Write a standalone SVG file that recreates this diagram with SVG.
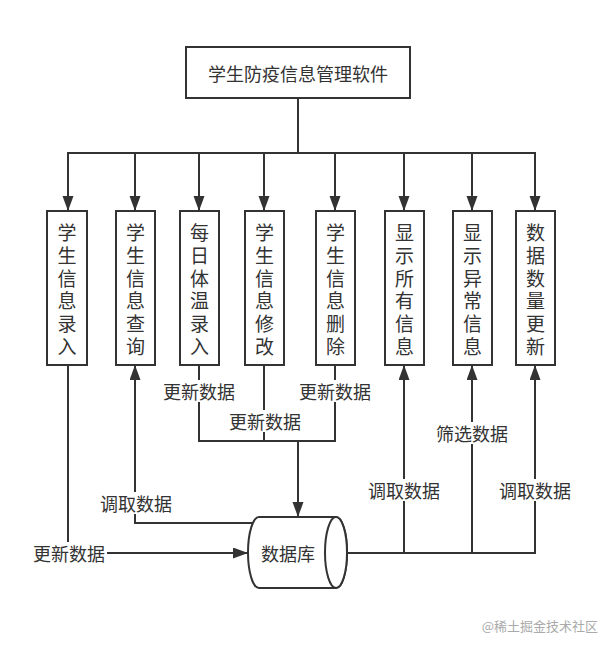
<svg xmlns="http://www.w3.org/2000/svg" width="616" height="650" viewBox="0 0 616 650">
<style>
text{font-family:"Noto Sans CJK SC","Liberation Sans",sans-serif;fill:#333;text-anchor:middle;dominant-baseline:central}
.box{fill:#fff;stroke:#333;stroke-width:2}
.vt{font-size:19px;writing-mode:vertical-rl;letter-spacing:3.7px}
.lbl{font-size:18px}
.lbg{fill:#fff}
.edge{fill:none;stroke:#333;stroke-width:2}
.arr{marker-end:url(#ah)}
</style>
<defs>
<marker id="ah" markerUnits="userSpaceOnUse" markerWidth="16" markerHeight="12" refX="15" refY="5.5" orient="auto">
<path d="M0,0 L15,5.5 L0,11 Z" fill="#333"/>
</marker>
</defs>
<rect width="616" height="650" fill="#fff"/>
<g id="connectors">
<path class="edge" d="M298,98 V153 H68 V209"/>
<path class="edge arr" d="M68,153 V211"/>
<path class="edge arr" d="M298,153 H135 V211"/>
<path class="edge arr" d="M298,153 H199 V211"/>
<path class="edge arr" d="M298,153 H264 V211"/>
<path class="edge arr" d="M298,153 H335 V211"/>
<path class="edge arr" d="M298,153 H404 V211"/>
<path class="edge arr" d="M298,153 H472 V211"/>
<path class="edge arr" d="M298,153 H535 V211"/>
<path class="edge arr" d="M68,365 V553 H248"/>
<path class="edge arr" d="M253,523 H135 V365"/>
<path class="edge arr" d="M199,365 V441 H298 V517"/>
<path class="edge" d="M264,365 V441"/>
<path class="edge" d="M335,365 V441 H298"/>
<path class="edge arr" d="M347,553 H404 V365"/>
<path class="edge arr" d="M347,553 H472 V365"/>
<path class="edge arr" d="M347,553 H535 V365"/>
<g id="edge-labels">
<rect class="lbg" x="31" y="542" width="76" height="22"/><text class="lbl" x="69" y="553">更新数据</text>
<rect class="lbg" x="98" y="492" width="76" height="22"/><text class="lbl" x="136" y="503">调取数据</text>
<rect class="lbg" x="161" y="380" width="76" height="22"/><text class="lbl" x="199" y="391">更新数据</text>
<rect class="lbg" x="227" y="410" width="76" height="22"/><text class="lbl" x="265" y="421">更新数据</text>
<rect class="lbg" x="297" y="380" width="76" height="22"/><text class="lbl" x="335" y="391">更新数据</text>
<rect class="lbg" x="366" y="479" width="76" height="22"/><text class="lbl" x="404" y="490">调取数据</text>
<rect class="lbg" x="434" y="422" width="76" height="22"/><text class="lbl" x="472" y="433">筛选数据</text>
<rect class="lbg" x="497" y="479" width="76" height="22"/><text class="lbl" x="535" y="490">调取数据</text>
</g>
</g>
<g id="title">
<rect class="box" x="186" y="47" width="224" height="51"/>
<text x="298" y="73" style="font-size:18px">学生防疫信息管理软件</text>
</g>
<g id="n1"><rect class="box" x="47" y="211" width="40" height="154"/><text class="vt" x="67" y="291.5">学生信息录入</text></g>
<g id="n2"><rect class="box" x="116" y="211" width="39" height="154"/><text class="vt" x="135.5" y="291.5">学生信息查询</text></g>
<g id="n3"><rect class="box" x="180" y="211" width="39" height="154"/><text class="vt" x="199.5" y="291.5">每日体温录入</text></g>
<g id="n4"><rect class="box" x="245" y="211" width="39" height="154"/><text class="vt" x="264.5" y="291.5">学生信息修改</text></g>
<g id="n5"><rect class="box" x="316" y="211" width="39" height="154"/><text class="vt" x="335.5" y="291.5">学生信息删除</text></g>
<g id="n6"><rect class="box" x="385" y="211" width="39" height="154"/><text class="vt" x="404.5" y="291.5">显示所有信息</text></g>
<g id="n7"><rect class="box" x="453" y="211" width="39" height="154"/><text class="vt" x="472.5" y="291.5">显示异常信息</text></g>
<g id="n8"><rect class="box" x="516" y="211" width="39" height="154"/><text class="vt" x="535.5" y="291.5">数据数量更新</text></g>
<g id="database">
<path class="box" d="M259,517 H336 A11,35.5 0 0 1 336,588 H259 A11,35.5 0 0 1 259,517 Z"/>
<ellipse class="box" cx="336" cy="552.5" rx="11" ry="35.5"/>
<text x="288" y="553" style="font-size:18px">数据库</text>
</g>
<text x="598" y="625" style="font-size:13px;fill:#aaa;text-anchor:end">@稀土掘金技术社区</text>
</svg>
